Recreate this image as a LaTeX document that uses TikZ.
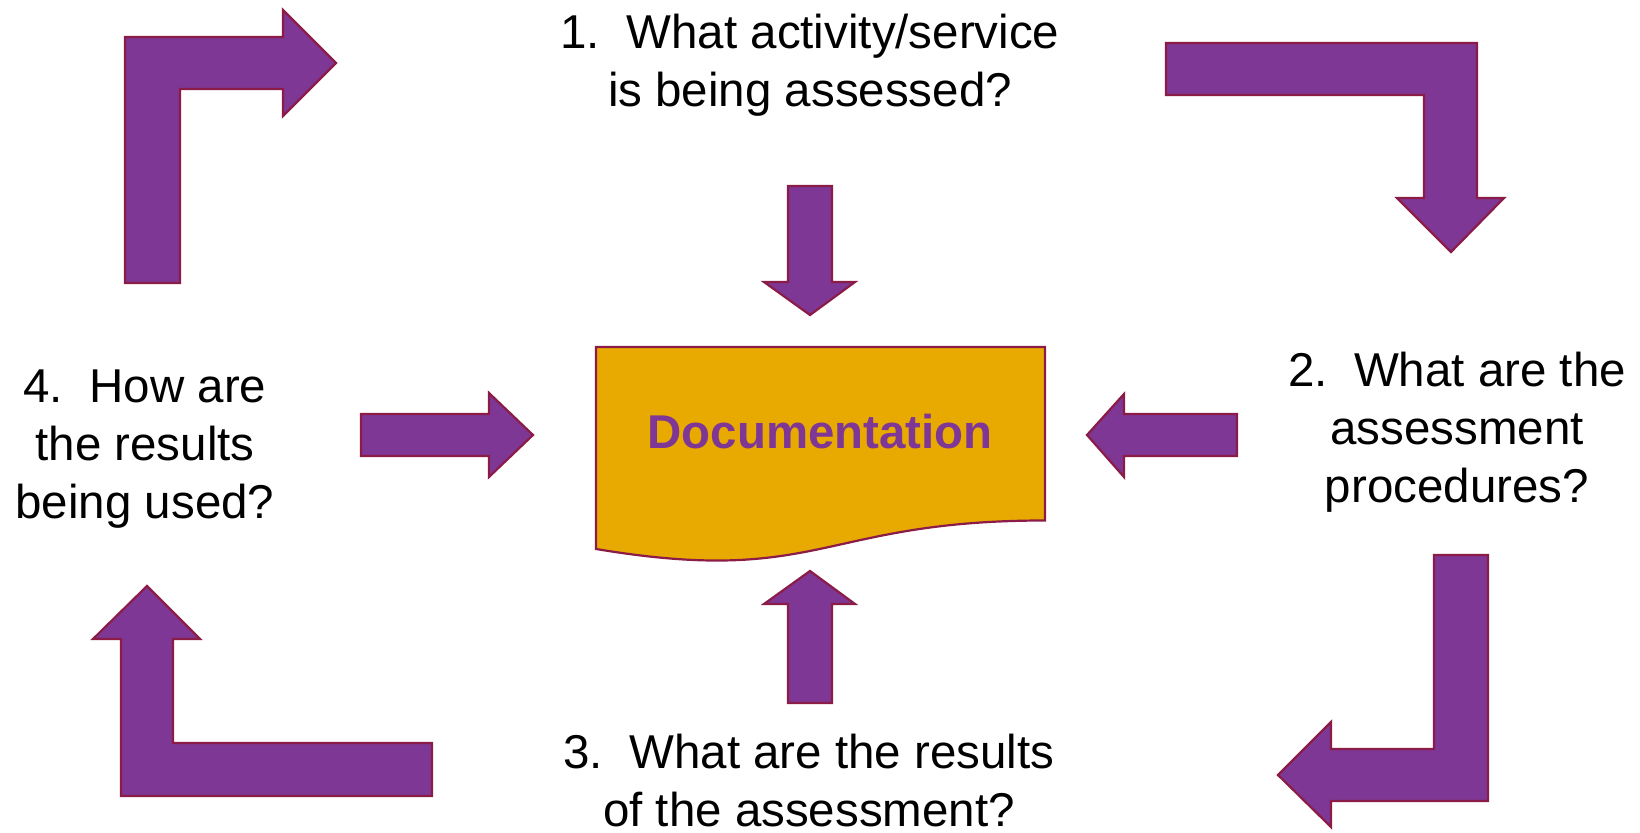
\documentclass[tikz,border=0pt]{standalone}
\usepackage{fontspec}
\setmainfont{Liberation Sans}
\definecolor{arrowpurple}{RGB}{127,55,149}
\definecolor{arrowedge}{RGB}{139,28,72}
\definecolor{docgold}{RGB}{232,170,0}
\begin{document}
\begin{tikzpicture}[x=0.5pt,y=-0.5pt,
    blockarrow/.style={fill=arrowpurple,draw=arrowedge,line width=1.1pt,line join=miter},
    question/.style={align=center,inner sep=0pt,font=\fontsize{23.75}{29}\selectfont}]
            \useasboundingbox (0,0) rectangle (1640,833);
            % the document shape in the middle
            \def\docpath{(596,347) -- (1045,347) -- (1045,520.5) .. controls (820.5,520.5) and (820.5,586.5) .. (596,549) -- cycle}
            \draw [fill=docgold,draw=arrowedge,line width=1.1pt]\docpath;
            \node (doc) at (820,432) [font=\fontsize{23.7}{28}\selectfont\bfseries,text=arrowpurple] {Documentation};
            % the four questions
            \node (q1) at (810,65) [question] {1.~~What activity/service\\is being assessed?};
            \node (q2) at (1457,432) [question] {2.~~What are the\\assessment\\procedures?};
            \node (q3) at (809,781) [question] {3.~~What are the results\\of the assessment?};
            \node (q4) at (145,449) [question] {4.~~How are\\the results\\being used?};
            % bent arrows round the cycle
            \draw [blockarrow] (125,283) -- (125,37) -- (283,37) -- (283,10) -- (336,63) -- (283,116) -- (283,89) -- (180,89) -- (180,283) -- cycle;
            \draw [blockarrow] (1166,43) -- (1477,43) -- (1477,198) -- (1504,198) -- (1451,252) -- (1397,198) -- (1424,198) -- (1424,95) -- (1166,95) -- cycle;
            \draw [blockarrow] (1434,555) -- (1488,555) -- (1488,801) -- (1331,801) -- (1331,827) -- (1278,775) -- (1331,722) -- (1331,749) -- (1434,749) -- cycle;
            \draw [blockarrow] (432,743) -- (432,796) -- (121,796) -- (121,639) -- (93,639) -- (147,586) -- (200,639) -- (173,639) -- (173,743) -- cycle;
            % straight arrows into the document
            \draw [blockarrow] (788,186) -- (832,186) -- (832,282) -- (855,282) -- (810,315) -- (764,282) -- (788,282) -- cycle;
            \draw [blockarrow] (788,703) -- (788,604) -- (764,604) -- (810,571) -- (855,604) -- (832,604) -- (832,703) -- cycle;
            \draw [blockarrow] (361,414) -- (489,414) -- (489,393) -- (533,435) -- (489,477) -- (489,456) -- (361,456) -- cycle;
            \draw [blockarrow] (1237,414) -- (1124,414) -- (1124,394) -- (1087,435) -- (1124,477) -- (1124,456) -- (1237,456) -- cycle;
        \end{tikzpicture}
\end{document}
